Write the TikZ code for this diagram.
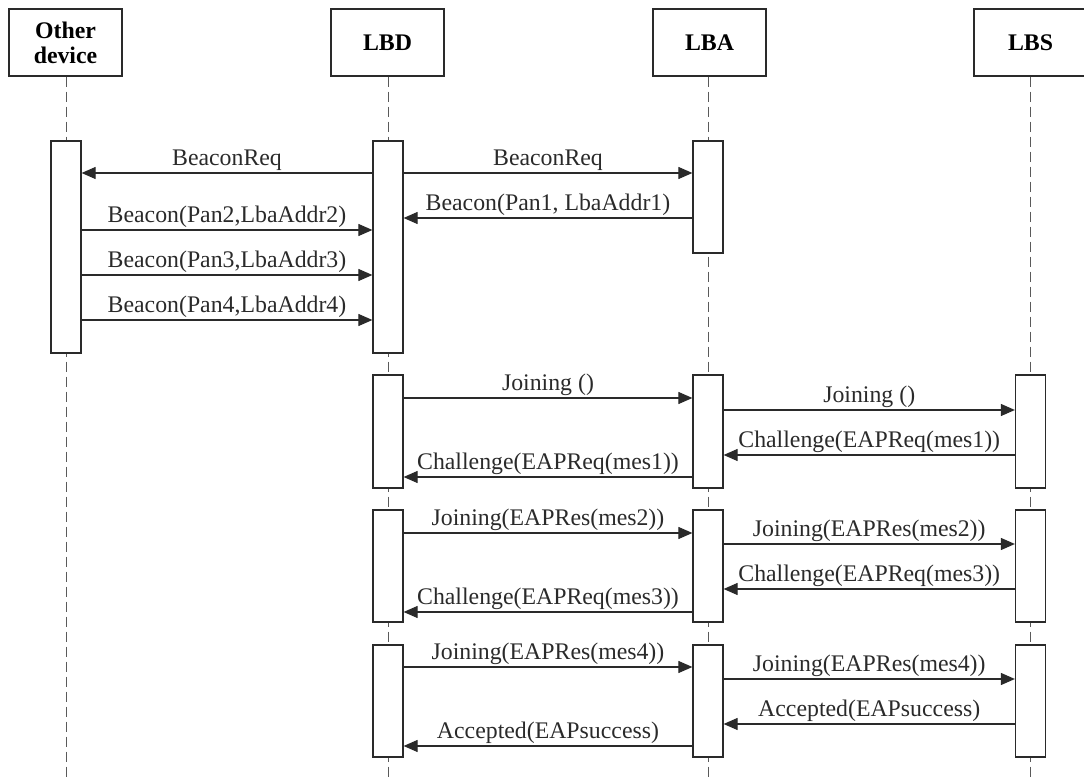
\documentclass[tikz,border=0pt]{standalone}
\usepackage{fontspec}
\setmainfont{Liberation Serif}
\usepackage{xcolor}
\definecolor{ink}{HTML}{2A2A2A}
\definecolor{lifegray}{HTML}{5A5A5A}
\usepackage{tikz}
\usetikzlibrary{arrows.meta}
\tikzset{
  actor/.style={draw=ink, line width=0.6pt, fill=white, align=center, font=\fontsize{11.9}{12.5}\selectfont\bfseries, minimum width=56.5pt, minimum height=33.5pt, inner sep=2pt},
  life/.style={lifegray, line width=0.5pt, dash pattern=on 5pt off 2.5pt},
  act/.style={draw=ink, line width=0.6pt, fill=white, minimum width=15pt, inner sep=0pt},
  msg/.style={-{Triangle[length=7pt,width=6pt]}, ink, line width=0.55pt},
  lbl/.style={above, inner sep=1pt, text=ink},
}

\begin{document}
\begin{tikzpicture}[x=0.5pt, y=-0.5pt, font=\fontsize{11.9}{12.5}\selectfont]
  \clip (0,0) rectangle (1084,780);
  % participants
  \node[actor] (od) at (65.5,42.5) {Other\\device};
  \node[actor] (lbd) at (387.5,42.5) {LBD};
  \node[actor] (lba) at (709.5,42.5) {LBA};
  \node[actor] (lbs) at (1030.5,42.5) {LBS};
  % lifelines
  \coordinate (odEnd) at (66,780);
  \coordinate (lbdEnd) at (388,780);
  \coordinate (lbaEnd) at (708,780);
  \coordinate (lbsEnd) at (1030.5,780);
  \draw[life] (od.south -| odEnd) -- (odEnd);
  \draw[life] (lbd.south -| lbdEnd) -- (lbdEnd);
  \draw[life] (lba.south -| lbaEnd) -- (lbaEnd);
  \draw[life] (lbs.south -| lbsEnd) -- (lbsEnd);
  % activations: discovery
  \node[act, minimum height=106pt] (odA) at (66,247) {};
  \node[act, minimum height=106pt] (lbdA) at (388,247) {};
  \node[act, minimum height=56pt] (lbaA) at (708,197) {};
  % activations: joining rounds
  \node[act, minimum height=56.5pt] (lbdB) at (388,431.5) {};
  \node[act, minimum height=56.5pt] (lbaB) at (708,431.5) {};
  \node[act, minimum height=56.5pt] (lbsB) at (1030.5,431.5) {};
  \node[act, minimum height=56pt] (lbdC) at (388,566) {};
  \node[act, minimum height=56pt] (lbaC) at (708,566) {};
  \node[act, minimum height=56pt] (lbsC) at (1030.5,566) {};
  \node[act, minimum height=56pt] (lbdD) at (388,701) {};
  \node[act, minimum height=56pt] (lbaD) at (708,701) {};
  \node[act, minimum height=56pt] (lbsD) at (1030.5,701) {};
  % discovery messages
  \draw[msg] (lbdA.west |- 0,173) -- (odA.east |- 0,173) node[lbl, midway] {BeaconReq};
  \draw[msg] (lbdA.east |- 0,173) -- (lbaA.west |- 0,173) node[lbl, midway] {BeaconReq};
  \draw[msg] (lbaA.west |- 0,218) -- (lbdA.east |- 0,218) node[lbl, midway] {Beacon(Pan1, LbaAddr1)};
  \draw[msg] (odA.east |- 0,230) -- (lbdA.west |- 0,230) node[lbl, midway] {Beacon(Pan2,LbaAddr2)};
  \draw[msg] (odA.east |- 0,275) -- (lbdA.west |- 0,275) node[lbl, midway] {Beacon(Pan3,LbaAddr3)};
  \draw[msg] (odA.east |- 0,320) -- (lbdA.west |- 0,320) node[lbl, midway] {Beacon(Pan4,LbaAddr4)};
  % round 1
  \draw[msg] (lbdB.east |- 0,398) -- (lbaB.west |- 0,398) node[lbl, midway] {Joining ()};
  \draw[msg] (lbaB.east |- 0,410) -- (lbsB.west |- 0,410) node[lbl, midway] {Joining ()};
  \draw[msg] (lbsB.west |- 0,455) -- (lbaB.east |- 0,455) node[lbl, midway] {Challenge(EAPReq(mes1))};
  \draw[msg] (lbaB.west |- 0,477) -- (lbdB.east |- 0,477) node[lbl, midway] {Challenge(EAPReq(mes1))};
  % round 2
  \draw[msg] (lbdC.east |- 0,533) -- (lbaC.west |- 0,533) node[lbl, midway] {Joining(EAPRes(mes2))};
  \draw[msg] (lbaC.east |- 0,544) -- (lbsC.west |- 0,544) node[lbl, midway] {Joining(EAPRes(mes2))};
  \draw[msg] (lbsC.west |- 0,589) -- (lbaC.east |- 0,589) node[lbl, midway] {Challenge(EAPReq(mes3))};
  \draw[msg] (lbaC.west |- 0,612) -- (lbdC.east |- 0,612) node[lbl, midway] {Challenge(EAPReq(mes3))};
  % round 3
  \draw[msg] (lbdD.east |- 0,667) -- (lbaD.west |- 0,667) node[lbl, midway] {Joining(EAPRes(mes4))};
  \draw[msg] (lbaD.east |- 0,679) -- (lbsD.west |- 0,679) node[lbl, midway] {Joining(EAPRes(mes4))};
  \draw[msg] (lbsD.west |- 0,724) -- (lbaD.east |- 0,724) node[lbl, midway] {Accepted(EAPsuccess)};
  \draw[msg] (lbaD.west |- 0,746) -- (lbdD.east |- 0,746) node[lbl, midway] {Accepted(EAPsuccess)};
\end{tikzpicture}
\end{document}
